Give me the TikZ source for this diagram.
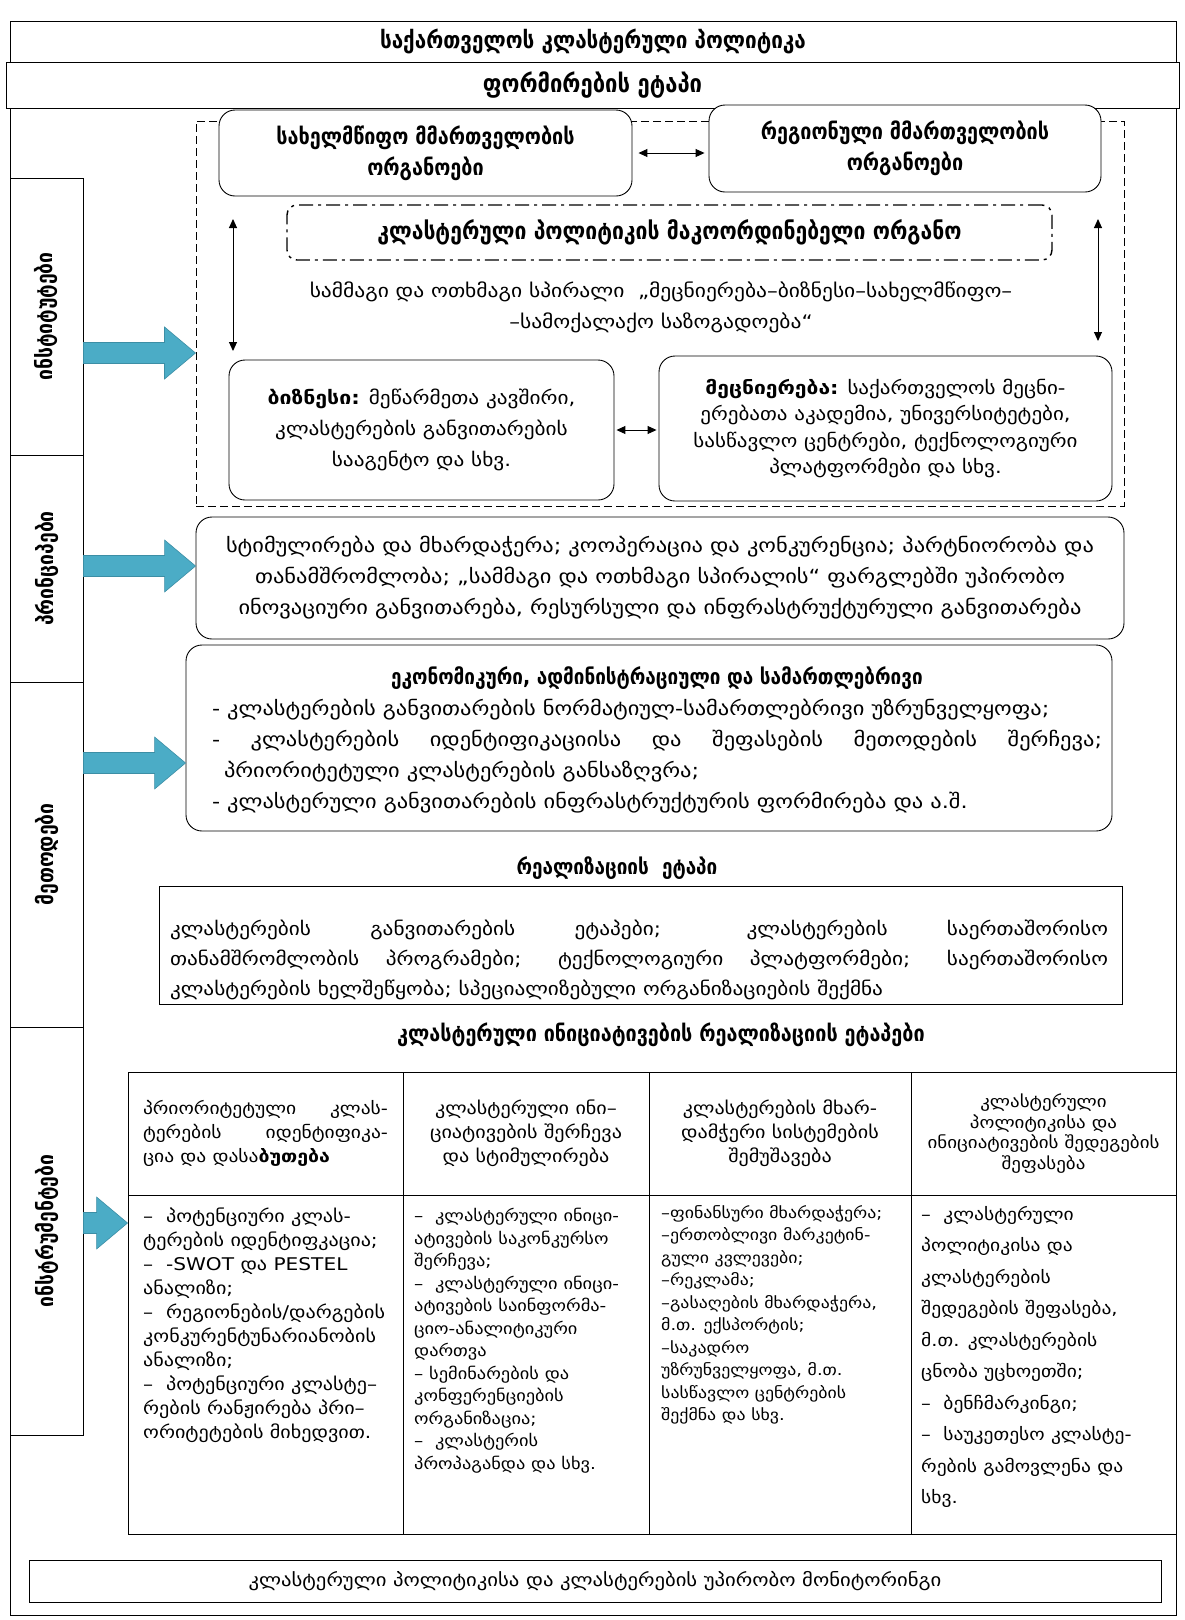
\documentclass[tikz,border=0pt]{standalone}
\usepackage{fontspec}
\setmainfont{DejaVu Sans}[FakeStretch=1.15]
\newfontfamily\hd{DejaVu Sans}[FakeStretch=0.88]
\usetikzlibrary{arrows.meta,calc}
\definecolor{arrowblue}{HTML}{4BACC6}
\definecolor{arrowedge}{HTML}{3C8EA5}
\newcommand{\fs}[2]{\fontsize{#1}{#2}\selectfont}
\tikzset{
  plainbox/.style={draw, line width=0.9pt, inner sep=0pt, fill=white},
  roundbox/.style={draw, line width=0.9pt, rounded corners=16pt, inner sep=0pt, fill=white},
  lbl/.style={inner sep=0pt, align=center},
  bodytext/.style={inner sep=0pt, align=left, anchor=north west},
  dbl/.style={{Triangle[length=9pt,width=8pt]}-{Triangle[length=9pt,width=8pt]}, line width=1pt},
  blk/.style={fill=arrowblue, draw=arrowedge, line width=0.6pt},
  sidelabel/.style={inner sep=0pt, rotate=90, font={\hd\bfseries\fs{22}{24}}},
}
\newcommand{\bluearrow}[2]{%
  \path[blk] let \p1=#1, \p2=#2 in
   (\x1,{\y1+10.5pt}) -- ({\x2-31pt},{\y1+10.5pt}) -- ({\x2-31pt},{\y1+26pt}) -- (\x2,\y1)
   -- ({\x2-31pt},{\y1-26pt}) -- ({\x2-31pt},{\y1-10.5pt}) -- (\x1,{\y1-10.5pt}) -- cycle;}
\begin{document}
\begin{tikzpicture}[x=1pt,y=-1pt]
\useasboundingbox (0,0) rectangle (1184,1620);
\fill[white] (0,0) rectangle (1184,1620);
% outer frame
\draw[line width=0.9pt] (10,21) rectangle (1176,1615);
\node[plainbox, minimum width=1166pt, minimum height=41pt, font={\hd\bfseries\fs{23.5}{26}}] (title) at (593,41.5) {საქართველოს კლასტერული პოლიტიკა};
\node[plainbox, minimum width=1173pt, minimum height=46pt, font={\hd\bfseries\fs{25}{28}}] (formation) at (592.5,85) {ფორმირების ეტაპი};

% dashed frame
\node[draw, dash pattern=on 8pt off 4pt, line width=1pt, minimum width=928pt, minimum height=385pt, inner sep=0pt] (dashbox) at (660,313.5) {};

\node[roundbox, minimum width=413pt, minimum height=86pt, align=center, font={\hd\bfseries\fs{22.5}{31}}] (state) at (425.5,153) {სახელმწიფო მმართველობის\\ორგანოები};
\node[roundbox, minimum width=392pt, minimum height=87pt, align=center, font={\hd\bfseries\fs{22.5}{31}}] (regional) at (905,148.5) {რეგიონული მმართველობის\\ორგანოები};
\draw[dbl, shorten <=6pt, shorten >=4pt] (state.east) -- (state.east -| regional.west);

\node[draw, line width=1.4pt, dash pattern=on 14pt off 5pt on 3pt off 5pt, rounded corners=10pt, minimum width=765pt, minimum height=55pt, inner sep=0pt, font={\hd\bfseries\fs{24}{26}}] (coord) at (669.5,232.5) {კლასტერული პოლიტიკის მაკოორდინებელი ორგანო};

\node[lbl, font={\fs{18.7}{31}}] (spiral) at (661,307.5) {სამმაგი და ოთხმაგი სპირალი \ ,,მეცნიერება–ბიზნესი–სახელმწიფო–\\–სამოქალაქო საზოგადოება“};

\coordinate (vla) at (233,219); \coordinate (vlb) at (233,351);
\coordinate (vra) at (1098,219); \coordinate (vrb) at (1098,341);
\draw[dbl] (vla) -- (vlb);
\draw[dbl] (vra) -- (vrb);

\node[roundbox, minimum width=385pt, minimum height=140pt, align=center, font={\fs{18.5}{31}}] (business) at (421.5,430) {\textbf{ბიზნესი:} მეწარმეთა კავშირი,\\კლასტერების განვითარების\\სააგენტო და სხვ.};
\node[roundbox, minimum width=453pt, minimum height=145pt, align=center, font={\fs{18.3}{26.5}}] (science) at (885.5,428.5) {\textbf{მეცნიერება:} საქართველოს მეცნი-\\ერებათა აკადემია, უნივერსიტეტები,\\სასწავლო ცენტრები, ტექნოლოგიური\\პლატფორმები და სხვ.};
\draw[dbl, shorten <=2pt, shorten >=2pt] (business.east) -- (business.east -| science.west);

% principles
\node[roundbox, minimum width=928pt, minimum height=122pt, align=center, font={\fs{19.5}{31}}] (principles) at (660,578) {სტიმულირება და მხარდაჭერა; კოოპერაცია და კონკურენცია; პარტნიორობა და\\თანამშრომლობა; ,,სამმაგი და ოთხმაგი სპირალის“ ფარგლებში უპირობო\\ინოვაციური განვითარება, რესურსული და ინფრასტრუქტურული განვითარება};

% methods
\node[roundbox, minimum width=926pt, minimum height=186pt] (methods) at (649,738) {};
\node[lbl, align=left, font={\fs{19.5}{31}}] (methodstext) at (657,739.5) {\makebox[890pt]{\hd\bfseries\fs{21.5}{31}ეკონომიკური, ადმინისტრაციული და სამართლებრივი}\\
- კლასტერების განვითარების ნორმატიულ-სამართლებრივი უზრუნველყოფა;\\
\makebox[890pt][s]{- კლასტერების იდენტიფიკაციისა და შეფასების მეთოდების შერჩევა;}\\
\hspace*{12pt}პრიორიტეტული კლასტერების განსაზღვრა;\\
- კლასტერული განვითარების ინფრასტრუქტურის ფორმირება და ა.შ.};

% realization
\node[lbl, font={\hd\bfseries\fs{21.5}{26}}] (realtitle) at (617,868) {რეალიზაციის \ ეტაპი};
\node[plainbox, minimum width=963pt, minimum height=118pt] (realbox) at (640.5,945) {};
\node[lbl, align=left, font={\fs{18.5}{30}}] (realtext) at (639,960) {\makebox[938pt][s]{კლასტერების განვითარების ეტაპები; კლასტერების საერთაშორისო}\\
\makebox[938pt][s]{თანამშრომლობის პროგრამები; ტექნოლოგიური პლატფორმები; საერთაშორისო}\\
კლასტერების ხელშეწყობა; სპეციალიზებული ორგანიზაციების შექმნა};

\node[lbl, font={\hd\bfseries\fs{22.5}{26}}] (stagestitle) at (661,1035) {კლასტერული ინიციატივების რეალიზაციის ეტაპები};

% table header
\node[plainbox, minimum width=275pt, minimum height=123pt] (h1) at (265.5,1133.5) {};
\node[plainbox, minimum width=246pt, minimum height=123pt] (h2) at (526,1133.5) {};
\node[plainbox, minimum width=262pt, minimum height=123pt] (h3) at (780,1133.5) {};
\node[plainbox, minimum width=265pt, minimum height=123pt] (h4) at (1043.5,1133.5) {};
\node[lbl, align=left, font={\fs{17}{24}}] (h1t) at (h1.center) {\makebox[245pt][s]{პრიორიტეტული კლას-}\\\makebox[245pt][s]{ტერების იდენტიფიკა-}\\ცია და დასა\textbf{ბუთება}};
\node[lbl, font={\fs{17.5}{24}}] (h2t) at (h2.center) {კლასტერული ინი–\\ციატივების შერჩევა\\და სტიმულირება};
\node[lbl, font={\fs{17.5}{24}}] (h3t) at (h3.center) {კლასტერების მხარ-\\დამჭერი სისტემების\\შემუშავება};
\node[lbl, font={\fs{16.5}{20.5}}] (h4t) at (h4.center) {კლასტერული\\პოლიტიკისა და\\ინიციატივების შედეგების\\შეფასება};

% table body
\node[plainbox, minimum width=275pt, minimum height=339pt] (b1) at (265.5,1364.5) {};
\node[plainbox, minimum width=246pt, minimum height=339pt] (b2) at (526,1364.5) {};
\node[plainbox, minimum width=262pt, minimum height=339pt] (b3) at (780,1364.5) {};
\node[plainbox, minimum width=265pt, minimum height=339pt] (b4) at (1043.5,1364.5) {};
\node[bodytext, font={\fs{17.5}{24}}] (b1t) at (143,1208) {–\ \ პოტენციური კლას-\\ტერების იდენტიფკაცია;\\–\ \ -SWOT და PESTEL\\ანალიზი;\\–\ \ რეგიონების/დარგების\\კონკურენტუნარიანობის\\ანალიზი;\\–\ \ პოტენციური კლასტე–\\რების რანჟირება პრი–\\ორიტეტების მიხედვით.};
\node[bodytext, font={\fs{16}{22.5}}] (b2t) at (414,1208) {–\ \ კლასტერული ინიცი-\\ატივების საკონკურსო\\შერჩევა;\\–\ \ კლასტერული ინიცი-\\ატივების საინფორმა-\\ციო-ანალიტიკური\\დართვა\\– სემინარების და\\კონფერენციების\\ორგანიზაცია;\\–\ \ კლასტერის\\პროპაგანდა და სხვ.};
\node[bodytext, font={\fs{15.5}{22.5}}] (b3t) at (661,1205) {–ფინანსური მხარდაჭერა;\\–ერთობლივი მარკეტინ-\\გული კვლევები;\\–რეკლამა;\\–გასაღების მხარდაჭერა,\\მ.თ. ექსპორტის;\\–საკადრო\\უზრუნველყოფა, მ.თ.\\სასწავლო ცენტრების\\შექმნა და სხვ.};
\node[bodytext, font={\fs{17}{31.5}}] (b4t) at (921,1206) {–\ \ კლასტერული\\პოლიტიკისა და\\კლასტერების\\შედეგების შეფასება,\\მ.თ. კლასტერების\\ცნობა უცხოეთში;\\–\ \ ბენჩმარკინგი;\\–\ \ საუკეთესო კლასტე-\\რების გამოვლენა და\\სხვ.};

% bottom
\node[plainbox, minimum width=1132pt, minimum height=42pt, font={\fs{18}{24}}] (monitor) at (595,1581) {კლასტერული პოლიტიკისა და კლასტერების უპირობო მონიტორინგი};

% left column
\node[plainbox, minimum width=73pt, minimum height=277pt] (inst) at (46.5,316.5) {};
\node[plainbox, minimum width=73pt, minimum height=227pt] (princ) at (46.5,568.5) {};
\node[plainbox, minimum width=73pt, minimum height=345pt] (meth) at (46.5,854.5) {};
\node[plainbox, minimum width=73pt, minimum height=408pt] (instr) at (46.5,1231) {};
\node[sidelabel] (instl) at (inst.center) {ინსტიტუტები};
\node[sidelabel] (princl) at (princ.center) {პრინციპები};
\node[sidelabel] (methl) at (meth.center) {მეთოდები};
\node[sidelabel] (instrl) at (instr.center) {ინსტრუმენტები};

% blue arrows
\coordinate (a1) at (0,353);
\coordinate (a2) at (0,566);
\coordinate (a3) at (0,763);
\coordinate (a4) at (0,1223);
\bluearrow{(inst.east |- a1)}{(dashbox.west |- a1)}
\bluearrow{(princ.east |- a2)}{(principles.west |- a2)}
\bluearrow{(meth.east |- a3)}{(methods.west |- a3)}
\bluearrow{(instr.east |- a4)}{(b1.west |- a4)}
\end{tikzpicture}
\end{document}
